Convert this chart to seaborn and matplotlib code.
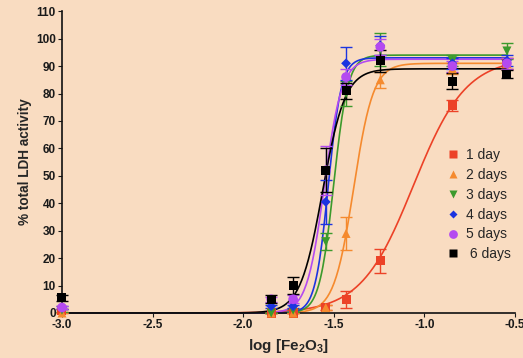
import numpy as np
import pandas as pd
import matplotlib
matplotlib.use("Agg")
import matplotlib.pyplot as plt
from matplotlib.lines import Line2D
import seaborn as sns

# log10 of Fe2O3 concentration
log_conc = [-3.0, -1.845, -1.724, -1.544, -1.432, -1.243, -0.845, -0.544]

# % total LDH activity per exposure time (mean and error)
day1 = [1, 0, 0, 2, 5, 19, 75.5, 91]
day2 = [0, 0, 0, 2, 29, 85, 89, 91]
day3 = [1, 0, 1, 26, 80, 96, 92, 95.5]
day4 = [2, 2.5, 2.5, 40.5, 91, 97.5, 91, 92]
day5 = [2, 5, 5, 52, 86, 97, 90, 91]
day6 = [5.5, 5, 10, 52, 81, 92, 84.5, 87]

err1 = [0.5, 0, 0, 1, 3, 4.5, 2, 2]
err2 = [0, 0, 0, 1, 6, 3, 2, 2]
err3 = [0.5, 0, 0.5, 3, 4.5, 6, 2, 3]
err4 = [0.5, 0.5, 0.5, 8, 6, 3.5, 2, 2]
err5 = [0.5, 1, 1.5, 9, 3, 3, 2, 2]
err6 = [1, 1.5, 3, 8, 3, 4, 3, 1.5]

# sigmoidal dose-response fit: top plateau, log EC50, Hill slope
fit_top = [93, 91, 94, 93, 92.5, 89]
fit_logec50 = [-1.06, -1.39, -1.50, -1.53, -1.552, -1.561]
fit_hill = [3, 8, 11, 12, 9, 7]

labels = ["1 day", "2 days", "3 days", "4 days", "5 days", " 6 days"]
colors = ["#ec4227", "#f58a2e", "#3c9a2c", "#1c34e0", "#b44af0", "#000000"]
markers = ["s", "^", "v", "D", "o", "s"]
msizes = [6.5, 6.5, 6.5, 5, 7, 6.5]

means = [day1, day2, day3, day4, day5, day6]
errs = [err1, err2, err3, err4, err5, err6]

sns.set_theme(style="ticks")
plt.rcParams["font.family"] = ["Liberation Sans", "DejaVu Sans"]
plt.rcParams["font.weight"] = "bold"
plt.rcParams["mathtext.fontset"] = "custom"
plt.rcParams["mathtext.rm"] = "Liberation Sans:bold"
plt.rcParams["mathtext.it"] = "Liberation Sans:bold"
plt.rcParams["mathtext.bf"] = "Liberation Sans:bold"

bg = "#f9dcc1"
fig = plt.figure(figsize=(5.23, 3.58), dpi=100, facecolor=bg)
ax = fig.add_axes([0.1185, 0.1257, 0.866, 0.843])
ax.set_facecolor(bg)

# fitted curves
xs = np.linspace(log_conc[0], log_conc[-1], 400)
curve_rows = []
for lab, top, ec, h in zip(labels, fit_top, fit_logec50, fit_hill):
    ys = top / (1 + 10 ** ((ec - xs) * h))
    curve_rows.append(pd.DataFrame({"x": xs, "y": ys, "series": lab}))
curves = pd.concat(curve_rows, ignore_index=True)
sns.lineplot(data=curves, x="x", y="y", hue="series", palette=colors,
             hue_order=labels, legend=False, lw=1.2, ax=ax, clip_on=False)

# data points with error bars
for lab, m, e, c, mk, ms in zip(labels, means, errs, colors, markers, msizes):
    ax.errorbar(log_conc, m, yerr=e, fmt="none", ecolor=c, elinewidth=1,
                capsize=4, capthick=1, clip_on=False, zorder=3)
    pts = pd.DataFrame({"x": log_conc, "y": m})
    sns.scatterplot(data=pts, x="x", y="y", marker=mk, color=c, s=ms ** 2,
                    edgecolor="none", ax=ax, clip_on=False, zorder=4)

ax.set_xlim(-3.0, -0.5)
ax.set_ylim(0, 110)
ax.set_xticks([-3.0, -2.5, -2.0, -1.5, -1.0, -0.5])
ax.set_xticklabels(["-3.0", "-2.5", "-2.0", "-1.5", "-1.0", "-0.5"])
ax.set_yticks(range(0, 111, 10))
ax.tick_params(axis="both", labelsize=8.5, length=3, width=0.8, pad=1.5,
               colors="#1a1a1a")
for lbl in ax.get_xticklabels() + ax.get_yticklabels():
    lbl.set_fontweight("bold")
for side in ["top", "right"]:
    ax.spines[side].set_visible(False)
for side in ["left", "bottom"]:
    ax.spines[side].set_linewidth(1.2)
    ax.spines[side].set_color("#111111")

ax.set_xlabel("log [Fe$_2$O$_3$]", fontsize=11, fontweight="bold", labelpad=4)
ax.set_ylabel("% total LDH activity", fontsize=9.8, fontweight="bold", labelpad=3)

handles = [Line2D([], [], ls="none", marker=mk, color=c, markersize=ms * 0.9,
                  markeredgecolor="none")
           for c, mk, ms in zip(colors, markers, msizes)]
leg = ax.legend(handles, labels, loc="upper left", bbox_to_anchor=(0.835, 0.565),
                frameon=False, fontsize=10, handlelength=1.0, handletextpad=0.45,
                labelspacing=0.42, borderaxespad=0)
for t in leg.get_texts():
    t.set_fontweight("normal")

fig.savefig("out.png", dpi=100, facecolor=bg)
